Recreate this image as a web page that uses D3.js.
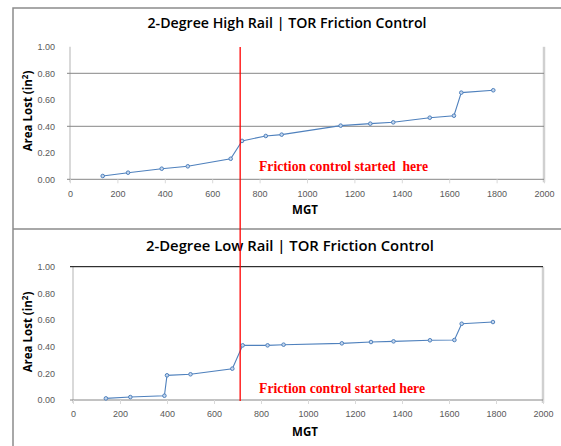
<!DOCTYPE html>
<html>
<head>
<meta charset="utf-8">
<script src="https://cdn.jsdelivr.net/npm/d3@7"></script>
<style>
  body { margin: 0; background: #fff; }
  svg { display: block; }
  .tick-label { font-family: "Liberation Sans", Arial, sans-serif; font-size: 9px; fill: #595959; }
  .chart-title { font-family: "Open Sans", sans-serif; font-weight: 600; font-size: 13.5px; fill: #000; }
  .axis-title { font-family: "Open Sans", sans-serif; font-weight: 700; font-size: 11.5px; fill: #000; }
  .note { font-family: "Liberation Serif", "Times New Roman", serif; font-weight: 700; font-size: 14px; fill: #ff0000; white-space: pre; }
</style>
</head>
<body>
<div id="chartContainer"></div>
<script>
// data
var highMGT  = [138, 245, 387, 497, 678, 726, 826, 893, 1142, 1267, 1364, 1518, 1620, 1651, 1786];
var highLoss = [0.025, 0.05, 0.08, 0.098, 0.155, 0.29, 0.327, 0.337, 0.405, 0.42, 0.43, 0.465, 0.48, 0.654, 0.672];
var lowMGT   = [140, 244, 389, 400, 500, 678, 722, 828, 896, 1144, 1268, 1364, 1519, 1623, 1654, 1787];
var lowLoss  = [0.012, 0.022, 0.032, 0.185, 0.193, 0.235, 0.41, 0.41, 0.415, 0.425, 0.435, 0.44, 0.448, 0.45, 0.572, 0.585];
var xTicks = [0, 200, 400, 600, 800, 1000, 1200, 1400, 1600, 1800, 2000];
var yTicks = [0, 0.2, 0.4, 0.6, 0.8, 1.0];
var startMGT = 718;
var titles = ["2-Degree High Rail | TOR Friction Control", "2-Degree Low Rail | TOR Friction Control"];
var notes = ["Friction control started  here", "Friction control started here"];

var width = 561, height = 446;

var svg = d3.select("#chartContainer")
  .append("svg")
  .attr("width", width)
  .attr("height", height);

// outer frames
svg.append("path")
  .attr("d", "M13,446 V8 H561 M13,229 H561")
  .attr("fill", "none")
  .attr("stroke", "#8c8c8c")
  .attr("stroke-width", 1.5);

var panels = [
  { mgt: highMGT, loss: highLoss, x0: 70, x1: 544, y0: 179.3, y1: 46.8, grid: [0.4, 0.8], topLine: false,
    titleY: 28, titleX: 287, titleW: 279, noteY: 171, noteW: 169, yTitleY: 111, mgtY: 214 },
  { mgt: lowMGT, loss: lowLoss, x0: 73, x1: 543, y0: 400, y1: 266.7, grid: [], topLine: true,
    titleY: 251, titleX: 290, titleW: 288, noteY: 393, noteW: 166, yTitleY: 332, mgtY: 436 }
];

var xTop = null;

panels.forEach(function(p, i) {
  var xScale = d3.scaleLinear().domain([0, 2000]).range([p.x0, p.x1]);
  var yScale = d3.scaleLinear().domain([0, 1]).range([p.y0, p.y1]);
  if (i === 0) xTop = xScale;

  var g = svg.append("g");

  // plot area side borders
  g.append("line")
    .attr("x1", p.x0).attr("x2", p.x0)
    .attr("y1", p.y1).attr("y2", p.y0 + 3)
    .attr("stroke", "#d9d9d9").attr("stroke-width", 2);
  g.append("line")
    .attr("x1", p.x1).attr("x2", p.x1)
    .attr("y1", p.y1).attr("y2", p.y0 + 3)
    .attr("stroke", "#d0d0d0").attr("stroke-width", 2.5);

  // gridlines
  g.selectAll(".grid")
    .data(p.grid)
    .enter()
    .append("line")
    .attr("x1", p.x0 - 3).attr("x2", p.x1)
    .attr("y1", d => yScale(d)).attr("y2", d => yScale(d))
    .attr("stroke", "#868686").attr("stroke-width", 1);

  if (p.topLine) {
    g.append("line")
      .attr("x1", p.x0 - 3).attr("x2", p.x1)
      .attr("y1", yScale(1)).attr("y2", yScale(1))
      .attr("stroke", "#000").attr("stroke-width", 1);
  }

  // x axis
  var xAxis = d3.axisBottom(xScale).tickValues(xTicks).tickSize(4).tickPadding(7).tickFormat(d3.format("d"));
  var xg = g.append("g")
    .attr("transform", "translate(0," + p.y0 + ")")
    .call(xAxis);
  xg.select(".domain").attr("stroke", "#868686").attr("d", "M" + (p.x0 - 3) + ",0H" + p.x1);
  xg.selectAll(".tick line").attr("stroke", "#d9d9d9");
  xg.selectAll("text").attr("class", "tick-label").attr("fill", null);

  // y axis labels
  var yAxis = d3.axisLeft(yScale).tickValues(yTicks).tickSize(0).tickPadding(p.x0 - 55).tickFormat(d3.format(".2f"));
  var yg = g.append("g")
    .attr("transform", "translate(" + p.x0 + ",0)")
    .call(yAxis);
  yg.select(".domain").remove();
  yg.selectAll("text").attr("class", "tick-label").attr("fill", null);

  // series line
  var pts = p.mgt.map((m, k) => [m, p.loss[k]]);
  var lineValue = d3.line()
    .x(d => xScale(d[0]))
    .y(d => yScale(d[1]));

  g.append("path")
    .attr("d", lineValue(pts))
    .attr("fill", "none")
    .attr("stroke", "#4f81bd")
    .attr("stroke-width", 1.1);

  g.selectAll(".dots")
    .data(pts)
    .enter()
    .append("circle")
    .attr("class", "dots")
    .attr("r", 1.8)
    .attr("cx", d => xScale(d[0]))
    .attr("cy", d => yScale(d[1]))
    .attr("fill", "#c5d7ee")
    .attr("stroke", "#4f81bd")
    .attr("stroke-width", 1);

  // Labels
  g.append("text")
    .attr("class", "chart-title")
    .attr("x", p.titleX)
    .attr("y", p.titleY)
    .attr("text-anchor", "middle")
    .attr("textLength", p.titleW)
    .attr("lengthAdjust", "spacingAndGlyphs")
    .text(titles[i]);

  g.append("text")
    .attr("class", "note")
    .attr("x", 259)
    .attr("y", p.noteY)
    .attr("textLength", p.noteW)
    .attr("lengthAdjust", "spacingAndGlyphs")
    .text(notes[i]);

  var yt = g.append("text")
    .attr("class", "axis-title")
    .attr("transform", "translate(32," + p.yTitleY + ") rotate(-90)")
    .attr("text-anchor", "middle");
  yt.append("tspan").text("Area Lost (in");
  yt.append("tspan").attr("dy", -4).attr("font-size", "8px").text("2");
  yt.append("tspan").attr("dy", 4).text(")");

  g.append("text")
    .attr("class", "axis-title")
    .attr("x", 305)
    .attr("y", p.mgtY)
    .attr("text-anchor", "middle")
    .text("MGT");
});

// vertical marker where friction control started
svg.append("line")
  .attr("x1", xTop(startMGT)).attr("x2", xTop(startMGT))
  .attr("y1", 47).attr("y2", 401)
  .attr("stroke", "#ff0000")
  .attr("stroke-width", 1.3);
</script>
</body>
</html>
